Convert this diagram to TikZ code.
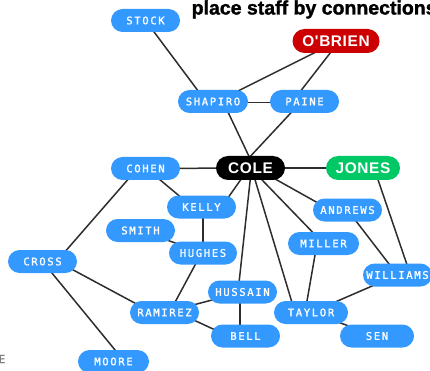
\documentclass[tikz,border=0pt]{standalone}
\usepackage{fontspec}
\setmainfont{Liberation Sans}
\newfontfamily\pixfont[LetterSpace=16,FakeBold=1.2]{DejaVu Sans Mono}
\newfontfamily\hubfont[LetterSpace=4]{Liberation Sans}
\newfontfamily\titlefont[FakeBold=1.5]{Liberation Sans Bold}
\usetikzlibrary{calc,backgrounds}
\definecolor{nodeblue}{RGB}{51,153,255}
\definecolor{hubred}{RGB}{204,0,0}
\definecolor{hubgreen}{RGB}{0,200,100}
\definecolor{linkgray}{RGB}{45,45,45}
\begin{document}
\begin{tikzpicture}[x=1pt,y=-1pt,
  base/.style={rounded corners=11.5pt, inner sep=0pt, text=white, minimum height=23pt},
  bnode/.style={base, fill=nodeblue, minimum width=69pt, font=\pixfont\fontsize{10.5}{12}\selectfont},
  hub/.style={base, minimum height=24pt, rounded corners=12pt, font=\hubfont\bfseries\fontsize{15.4}{16}\selectfont},
  link/.style={draw=linkgray, line width=1.5pt}]
\useasboundingbox (0,0) rectangle (430,371);
\clip (0,0) rectangle (430,371);
% title
\node[anchor=base west, inner sep=0pt, font=\titlefont\fontsize{19.5}{22}\selectfont] (title) at (191.5,14.5) {place staff by connections};
\node[anchor=base east, inner sep=0pt, text=black!50, font=\pixfont\fontsize{11}{12}\selectfont] (frag) at (5.5,363) {E};
% nodes
\node[bnode] (stock) at (145.5,20.5) {STOCK};
\node[hub, fill=hubred, minimum width=87pt] (obrien) at (336,41) {O'BRIEN};
\node[bnode, minimum width=70pt] (shapiro) at (213,101.5) {SHAPIRO};
\node[bnode] (paine) at (304.5,101.5) {PAINE};
\node[bnode] (cohen) at (145.5,168.5) {COHEN};
\node[hub, fill=black, minimum width=69pt] (cole) at (250.5,168) {COLE};
\node[hub, fill=hubgreen, minimum width=74pt] (jones) at (363,168) {JONES};
\node[bnode] (kelly) at (201.5,207) {KELLY};
\node[bnode] (andrews) at (347.5,210) {ANDREWS};
\node[bnode] (smith) at (140.5,230.5) {SMITH};
\node[bnode, minimum width=71pt] (miller) at (323.5,243.5) {MILLER};
\node[bnode, minimum width=68pt] (hughes) at (203,253) {HUGHES};
\node[bnode] (cross) at (42.5,261.5) {CROSS};
\node[bnode] (williams) at (397.5,275) {WILLIAMS};
\node[bnode] (hussain) at (242.5,292) {HUSSAIN};
\node[bnode] (ramirez) at (164.5,312.5) {RAMIREZ};
\node[bnode, minimum width=74pt] (taylor) at (311,312.5) {TAYLOR};
\node[bnode] (bell) at (245.5,336) {BELL};
\node[bnode, minimum width=74pt] (sen) at (377,336) {SEN};
\node[bnode, minimum width=71pt] (moore) at (113.5,361.5) {MOORE};
% links
\begin{scope}[on background layer]
\draw[link] (stock.center) -- ($(shapiro)+(-7,0)$);
\draw[link] ($(shapiro)+(4,0)$) -- ($(obrien)+(2,0)$);
\draw[link] ($(paine)+(-12,0)$) -- ($(obrien)+(3.5,0)$);
\draw[link] ($(shapiro)+(0,1)$) -- ($(paine)+(0,1)$);
\draw[link] ($(shapiro)+(10,0)$) -- ($(cole)+(4,0)$);
\draw[link] ($(paine)+(-3,0)$) -- ($(cole)+(-11,0)$);
\draw[link] (cohen.center) -- (cole.center);
\draw[link] (cole.center) -- (jones.center);
\draw[link] ($(cohen)+(1,0)$) -- ($(kelly)+(-9,0)$);
\draw[link] ($(cohen)+(-8,0)$) -- ($(cross)+(14,0)$);
\draw[link] ($(cole)+(-1.5,0)$) -- ($(kelly)+(20,0)$);
\draw[link] ($(kelly)+(1.5,0)$) -- (hughes.center);
\draw[link] (smith.center) -- (hughes.center);
\draw[link] ($(cole)+(1,0)$) -- ($(hussain)+(-4.5,0)$);
\draw[link] ($(cole)+(1,0)$) -- ($(taylor)+(-16,0)$);
\draw[link] (cole.center) -- (miller.center);
\draw[link] ($(cole)+(5,0)$) -- ($(andrews)+(-17,0)$);
\draw[link] ($(jones)+(11,0)$) -- ($(williams)+(13,0)$);
\draw[link] (andrews.center) -- (williams.center);
\draw[link] ($(miller)+(-6.5,0)$) -- ($(taylor)+(-6,0)$);
\draw[link] (williams.center) -- (taylor.center);
\draw[link] (taylor.center) -- (sen.center);
\draw[link] ($(cross)+(0,-8)$) -- ($(ramirez)+(0,6.5)$);
\draw[link] (cross.center) -- ($(moore)+(11,0)$);
\draw[link] ($(hughes)+(-1.5,0)$) -- ($(ramirez)+(5,0)$);
\draw[link] (ramirez.center) -- (hussain.center);
\draw[link] ($(ramirez)+(0,-6)$) -- ($(bell)+(0,8)$);
\draw[link] ($(hussain)+(-2.5,0)$) -- ($(bell)+(-5.5,0)$);
\end{scope}
\end{tikzpicture}
\end{document}
